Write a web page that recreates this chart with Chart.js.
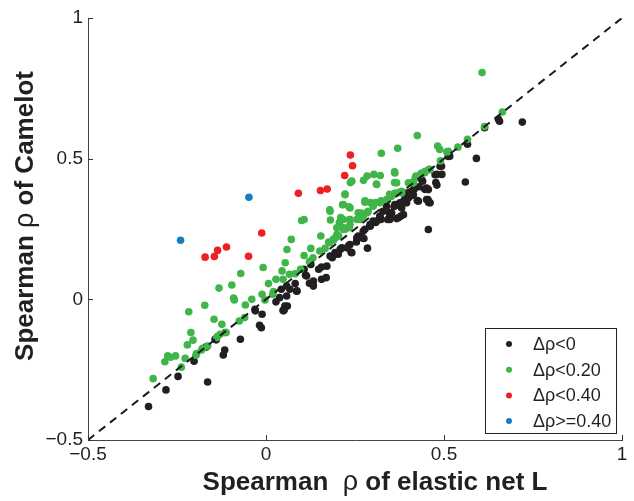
<!DOCTYPE html>
<html>
<head>
<meta charset="utf-8">
<script src="https://cdn.jsdelivr.net/npm/chart.js@4.4.0/dist/chart.umd.min.js"></script>
<style>
  body { margin: 0; background: #fff; }
</style>
</head>
<body>
<canvas id="scatterChart" width="634" height="501"></canvas>
<script>
// data: [elastic net rho, Camelot rho]
var legendLabels = ['Δρ<0', 'Δρ<0.20', 'Δρ<0.40', 'Δρ>=0.40'];
var axisTicks = [-0.5, 0, 0.5, 1];
var diagonal = [-0.5, 1];

var blackPts = [
  [0.720,0.630],[0.653,0.640],[0.656,0.633],[0.614,0.610],[0.566,0.551],[0.516,0.509],[0.591,0.501],
  [0.560,0.417],[0.494,0.444],[0.480,0.444],[0.480,0.406],[0.477,0.415],[0.489,0.473],[0.453,0.393],
  [0.446,0.391],[0.455,0.355],[0.457,0.344],[0.425,0.351],[0.456,0.248],[0.436,0.427],[0.416,0.391],
  [0.406,0.382],[0.392,0.367],[0.387,0.350],[0.377,0.332],[0.379,0.296],[0.367,0.287],[0.347,0.308],
  [0.342,0.284],[0.323,0.284],[0.308,0.273],[0.293,0.261],[0.278,0.249],[0.285,0.182],[0.275,0.216],
  [0.259,0.225],[0.254,0.204],[0.239,0.167],[0.233,0.192],[0.210,0.180],[0.203,0.160],[0.186,0.148],
  [0.171,0.118],[0.156,0.115],[0.148,0.107],[0.169,0.077],[0.156,0.071],[0.132,0.053],[0.122,0.057],
  [0.111,0.086],[0.082,0.056],[0.087,0.030],[0.067,0.036],[0.058,0.012],[0.043,0.036],[0.038,0.006],
  [0.028,-0.009],[0.060,-0.024],[0.048,-0.039],[-0.030,-0.041],[-0.011,-0.053],[-0.018,-0.092],
  [-0.013,-0.101],[-0.072,-0.142],[-0.114,-0.118],[-0.116,-0.180],[-0.120,-0.198],[-0.143,-0.142],
  [-0.164,-0.294],[-0.202,-0.220],[-0.247,-0.274],[-0.281,-0.322],[-0.330,-0.381],[-0.168,-0.169],
  [0.107,0.107],[0.126,0.124],[0.428,0.349],[0.414,0.372],[0.395,0.378],[0.376,0.343],[0.348,0.295],
  [0.339,0.331],[0.320,0.295],[0.311,0.278],[0.292,0.266],[0.241,0.166],[0.213,0.183],[0.194,0.160],
  [0.133,0.065],[0.133,0.047],[0.114,0.083],[0.086,0.029],[0.058,0.047],[0.053,-0.024],[0.049,-0.041],
  [0.451,0.396],[0.475,0.443],[0.390,0.355],[-0.031,-0.035],[-0.140,-0.144],[0.051,-0.038],
  [0.360,0.330],[0.400,0.360],[0.430,0.400],[0.440,0.420],[0.410,0.370],
  [0.456,0.390],[0.451,0.355],[0.461,0.343],[0.414,0.390],[0.404,0.366],[0.395,0.343],[0.381,0.325],
  [0.386,0.301],[0.372,0.290],[0.362,0.337],[0.353,0.307],[0.348,0.284],[0.329,0.313],[0.320,0.295],
  [0.301,0.278],[0.292,0.260],[0.273,0.242],[0.269,0.219],[0.255,0.219],[0.236,0.195],[0.227,0.183],
  [0.208,0.177],[0.194,0.166],[0.180,0.154],[0.493,0.473],[0.512,0.508]
];

var greenPts = [
  [0.607,0.806],[0.664,0.666],[0.614,0.614],[0.566,0.569],[0.539,0.541],[0.508,0.524],[0.482,0.545],
  [0.488,0.533],[0.490,0.492],[0.425,0.582],[0.370,0.537],[0.324,0.519],[0.361,0.453],[0.361,0.415],
  [0.321,0.440],[0.310,0.410],[0.303,0.444],[0.284,0.438],[0.274,0.423],[0.237,0.415],[0.222,0.374],
  [0.215,0.336],[0.233,0.329],[0.235,0.284],[0.210,0.291],[0.179,0.318],[0.181,0.282],[0.206,0.273],
  [0.217,0.255],[0.107,0.284],[0.100,0.280],[0.071,0.213],[0.059,0.177],[0.054,0.130],[0.045,0.101],
  [0.107,0.156],[0.126,0.181],[0.154,0.225],[0.176,0.204],[0.195,0.219],[-0.008,0.113],[0.007,0.056],
  [-0.071,0.092],[-0.096,0.051],[-0.132,0.040],[-0.091,0.005],[-0.089,-0.002],[-0.172,-0.021],
  [-0.217,-0.044],[-0.146,-0.071],[-0.124,-0.089],[-0.211,-0.118],[-0.205,-0.145],[-0.221,-0.162],
  [-0.227,-0.210],[-0.238,-0.241],[-0.254,-0.201],[-0.268,-0.206],[-0.276,-0.201],[-0.284,-0.222],
  [-0.317,-0.282],[-0.178,-0.174],[-0.195,-0.193],[-0.138,-0.136],[-0.129,-0.124],[-0.075,-0.077],
  [-0.060,-0.065],[-0.058,-0.020],[-0.040,0.000],[-0.011,0.018],[0.021,0.028],[0.028,0.071],
  [0.048,0.071],[0.066,0.089],[0.082,0.091],[0.097,0.107],[0.122,0.134],[0.132,0.148],[0.151,0.172],
  [0.166,0.181],[0.178,0.201],[0.190,0.211],[0.204,0.225],[0.222,0.249],[0.234,0.255],[0.259,0.308],
  [0.269,0.306],[0.278,0.350],[0.293,0.344],[0.308,0.344],[0.323,0.350],[0.347,0.373],[0.362,0.377],
  [0.377,0.382],[0.411,0.415],[0.421,0.438],[0.436,0.448],[0.446,0.450],[0.458,0.462],[0.284,0.308],
  [0.264,0.284],[0.512,0.526],[0.442,0.449],[0.419,0.431],[0.414,0.414],[0.381,0.378],[-0.197,-0.199],
  [-0.181,-0.180],[-0.164,-0.166],[-0.112,-0.118],[-0.137,-0.132],[-0.003,-0.002],[0.019,0.018],
  [0.433,0.443],[0.447,0.455],[0.461,0.461],[0.400,0.414],[0.381,0.384],[0.367,0.378],[0.353,0.366],
  [0.339,0.355],[0.320,0.343],[0.301,0.331],[0.287,0.313],[0.273,0.295],[0.255,0.284],[0.236,0.266],
  [0.217,0.248],[0.199,0.230],[0.189,0.213],[0.362,0.449],[0.367,0.414],[0.311,0.408],[0.241,0.420],
  [0.222,0.372],[0.217,0.337],[0.236,0.325],[0.278,0.345],[0.180,0.313],[0.217,0.284],[0.236,0.284],
  [0.264,0.307],[0.199,0.254]
];

var redPts = [
  [-0.171,0.150],[-0.145,0.152],[-0.136,0.174],[-0.111,0.186],[-0.049,0.153],[-0.012,0.236],
  [0.091,0.377],[0.153,0.387],[0.172,0.392],[0.221,0.440],[0.243,0.475],[0.237,0.513]
];

var bluePts = [[-0.240,0.210],[-0.048,0.363]];

var colors = ['#231f20', '#3fb54a', '#ed2024', '#1c7cc2'];

function toXY(pts) {
  return pts.map(function (p) { return { x: p[0], y: p[1] }; });
}

function fmtTick(v) {
  if (v === 0) return '0';
  return v < 0 ? '\u2212' + Math.abs(v) : String(v);
}

var groups = [blackPts, greenPts, redPts, bluePts];
var dataset = [];
for (var i = 0; i < groups.length; i += 1) {
  dataset.push({
    label: legendLabels[i],
    data: toXY(groups[i]),
    backgroundColor: colors[i],
    borderWidth: 0,
    pointRadius: 3.8,
    order: 10 - i
  });
}
dataset.push({
  type: 'line',
  label: 'diag',
  data: diagonal.map(function (v) { return { x: v, y: v }; }),
  borderColor: '#1a1a1a',
  borderWidth: 2,
  borderDash: [8, 6],
  pointRadius: 0,
  fill: false,
  order: 0
});

// inward tick marks, axis titles and the boxed legend
var decorations = {
  id: 'decorations',
  afterDraw: function (chart) {
    var ctx = chart.ctx;
    var xs = chart.scales.x, ys = chart.scales.y;
    var a = chart.chartArea;
    ctx.save();
    ctx.strokeStyle = '#333';
    ctx.lineWidth = 1;
    axisTicks.forEach(function (t) {
      var px = Math.round(xs.getPixelForValue(t)) + 0.5;
      ctx.beginPath(); ctx.moveTo(px, a.bottom); ctx.lineTo(px, a.bottom - 5); ctx.stroke();
      var py = Math.round(ys.getPixelForValue(t)) + 0.5;
      ctx.beginPath(); ctx.moveTo(a.left, py); ctx.lineTo(a.left + 5, py); ctx.stroke();
    });

    // titles with a plain rho
    function drawTitle(parts, cx, cy, rot) {
      ctx.save();
      ctx.translate(cx, cy);
      ctx.rotate(rot);
      ctx.fillStyle = '#231f20';
      ctx.textBaseline = 'middle';
      var w = 0;
      parts.forEach(function (p) { ctx.font = p[1]; w += ctx.measureText(p[0]).width; });
      var x = -w / 2;
      parts.forEach(function (p) {
        ctx.font = p[1];
        ctx.fillText(p[0], x, 0);
        x += ctx.measureText(p[0]).width;
      });
      ctx.restore();
    }
    var bold = 'bold 26px "Liberation Sans", Arial, sans-serif';
    var plain = '27px "Liberation Sans", Arial, sans-serif';
    drawTitle([['Spearman ', bold], ['ρ', plain], [' of Camelot', bold]], 26, 216, -Math.PI / 2);
    drawTitle([['Spearman  ', bold], ['ρ', plain], [' of elastic net L', bold]], 375, 483, 0);

    // legend box
    ctx.fillStyle = '#fff';
    ctx.fillRect(485, 328, 132, 106);
    ctx.strokeStyle = '#231f20';
    ctx.strokeRect(485.5, 328.5, 131, 105);
    ctx.font = '18px "Liberation Sans", Arial, sans-serif';
    ctx.textBaseline = 'middle';
    for (var k = 0; k < legendLabels.length; k += 1) {
      var ry = 344 + k * 25.7;
      ctx.fillStyle = colors[k];
      ctx.beginPath(); ctx.arc(509, ry, 3, 0, Math.PI * 2); ctx.fill();
      ctx.fillStyle = '#231f20';
      ctx.fillText(legendLabels[k], 533, ry + 1);
    }
    ctx.restore();
  }
};

new Chart(document.getElementById('scatterChart'), {
  type: 'scatter',
  data: { datasets: dataset },
  plugins: [decorations],
  options: {
    responsive: false,
    animation: false,
    layout: { padding: { top: 18, right: 12, left: 0, bottom: 0 } },
    plugins: {
      legend: { display: false },
      tooltip: { enabled: false }
    },
    scales: {
      x: {
        type: 'linear',
        min: -0.5,
        max: 1,
        afterFit: function (s) { s.height = 61; },
        afterBuildTicks: function (s) { s.ticks = axisTicks.map(function (v) { return { value: v }; }); },
        ticks: {
          callback: fmtTick,
          color: '#231f20',
          padding: 3,
          maxRotation: 0,
          font: { size: 19, family: '"Liberation Sans", Arial, sans-serif' }
        },
        grid: { drawOnChartArea: false, drawTicks: false },
        border: { color: '#444', width: 1 }
      },
      y: {
        type: 'linear',
        min: -0.5,
        max: 1,
        afterFit: function (s) { s.width = 88; },
        afterBuildTicks: function (s) { s.ticks = axisTicks.map(function (v) { return { value: v }; }); },
        ticks: {
          callback: fmtTick,
          color: '#231f20',
          padding: 5,
          font: { size: 19, family: '"Liberation Sans", Arial, sans-serif' }
        },
        grid: { drawOnChartArea: false, drawTicks: false },
        border: { color: '#444', width: 1 }
      }
    }
  }
});
</script>
</body>
</html>
